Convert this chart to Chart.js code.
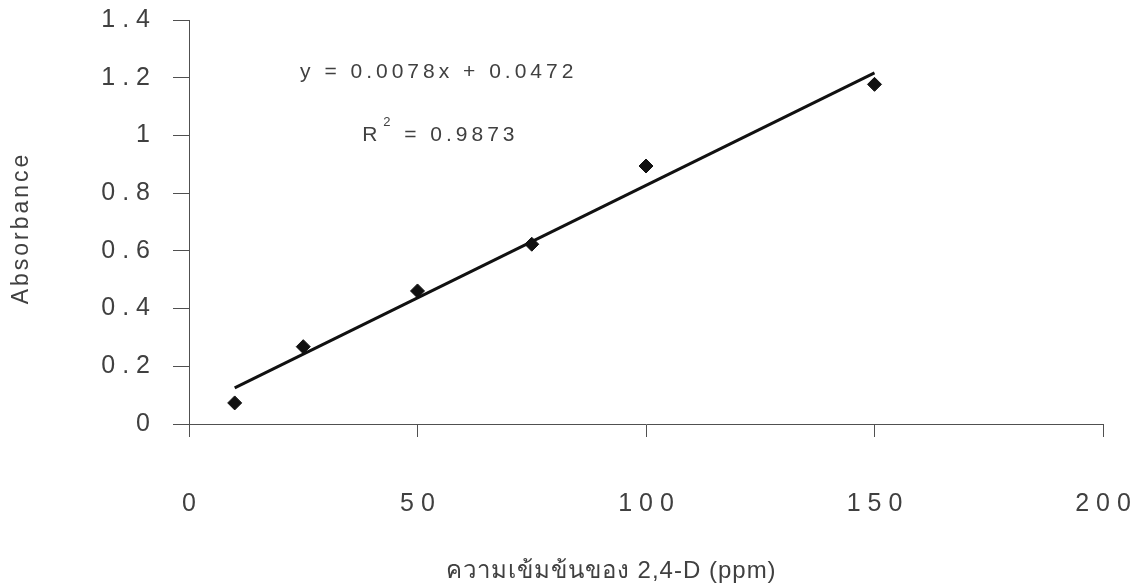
<!DOCTYPE html>
<html>
<head>
<meta charset="utf-8">
<script src="https://cdn.jsdelivr.net/npm/chart.js@4"></script>
<style>
  html, body { margin: 0; padding: 0; background: #fff; }
  #wrap { width: 1139px; height: 587px; }
</style>
</head>
<body>
<div id="wrap"><canvas id="myChart" width="1139" height="587"></canvas></div>
<script>
// values
const concentration = [10, 25, 50, 75, 100, 150];
const absorbance = [0.073, 0.268, 0.461, 0.623, 0.894, 1.177];
const trendX = [10, 150];
const trendY = [0.125, 1.217];
const xTicks = [0, 50, 100, 150, 200];
const yTicks = [0, 0.2, 0.4, 0.6, 0.8, 1, 1.2, 1.4];
const xTitle = 'ความเข้มข้นของ 2,4-D (ppm)';
const yTitle = 'Absorbance';
const equationText = 'y = 0.0078x + 0.0472';
const r2Text = '= 0.9873';

const textColor = '#404040';
const lineColor = '#505050';
const fontFamily = '"Liberation Sans", Arial, "Noto Sans", sans-serif';

// digits spaced out like the scanned original: "1 . 4", "5 0"
const spaced = (v) => String(v).split('').join(' ');

// axis titles and the trendline label, drawn with wider letter spacing
const textPlugin = {
  id: 'texts',
  afterDraw(chart) {
    const { ctx, scales, chartArea } = chart;
    ctx.save();
    ctx.fillStyle = textColor;
    ctx.textBaseline = 'middle';

    ctx.font = '21px ' + fontFamily;
    ctx.letterSpacing = '4px';
    ctx.textAlign = 'left';
    const ex = scales.x.getPixelForValue(24.3);
    const ey = scales.y.getPixelForValue(1.22);
    ctx.fillText(equationText, ex, ey);

    const rx = scales.x.getPixelForValue(37.9);
    const ry = scales.y.getPixelForValue(1.0);
    ctx.fillText('R', rx, ry);
    ctx.font = '13px ' + fontFamily;
    ctx.letterSpacing = '0px';
    ctx.fillText('2', rx + 21, ry - 13);
    ctx.font = '21px ' + fontFamily;
    ctx.letterSpacing = '4px';
    ctx.fillText(r2Text, rx + 42, ry);

    // x title
    ctx.font = '24px ' + fontFamily;
    ctx.letterSpacing = '1px';
    ctx.textAlign = 'center';
    ctx.fillText(xTitle, chartArea.left + (chartArea.right - chartArea.left) * 0.462, 571);

    // y title
    ctx.translate(22, (chartArea.top + chartArea.bottom) / 2 + 6);
    ctx.rotate(-Math.PI / 2);
    ctx.font = '23px ' + fontFamily;
    ctx.letterSpacing = '3px';
    ctx.fillText(yTitle, 0, 0);
    ctx.restore();
  }
};

const ctx = document.getElementById('myChart').getContext('2d');
const myChart = new Chart(ctx, {
  type: 'scatter',
  data: {
    datasets: [
      {
        label: 'Absorbance',
        data: concentration.map((x, i) => ({ x: x, y: absorbance[i] })),
        pointStyle: 'rectRot',
        pointRadius: 7,
        backgroundColor: '#111',
        borderColor: '#111',
        borderWidth: 1,
      },
      {
        label: 'Linear',
        type: 'line',
        data: trendX.map((x, i) => ({ x: x, y: trendY[i] })),
        borderColor: '#111',
        borderWidth: 3,
        pointRadius: 0,
        fill: false,
      },
    ],
  },
  options: {
    responsive: false,
    animation: false,
    layout: { padding: 0 },
    plugins: {
      legend: { display: false },
      tooltip: { enabled: false },
    },
    scales: {
      x: {
        type: 'linear',
        min: 0,
        max: 200,
        afterBuildTicks: (scale) => { scale.ticks = xTicks.map((v) => ({ value: v })); },
        afterFit: (scale) => {
          scale.height = 163;
          scale.paddingLeft = 0;
          scale.paddingRight = 36;
        },
        border: { display: true, color: lineColor, width: 1 },
        grid: { drawOnChartArea: false, drawTicks: true, tickLength: 13, color: lineColor },
        ticks: {
          padding: 52,
          color: textColor,
          font: { family: fontFamily, size: 25 },
          maxRotation: 0,
          callback: (v) => spaced(v),
        },
      },
      y: {
        type: 'linear',
        min: 0,
        max: 1.4,
        afterBuildTicks: (scale) => { scale.ticks = yTicks.map((v) => ({ value: v })); },
        afterFit: (scale) => {
          scale.width = 189;
          scale.paddingTop = 20;
          scale.paddingBottom = 0;
        },
        border: { display: true, color: lineColor, width: 1 },
        grid: { drawOnChartArea: false, drawTicks: true, tickLength: 16, color: lineColor },
        ticks: {
          padding: 23,
          color: textColor,
          font: { family: fontFamily, size: 25 },
          callback: (v) => spaced(Math.round(v * 10) / 10),
        },
      },
    },
  },
  plugins: [textPlugin],
});
</script>
</body>
</html>
